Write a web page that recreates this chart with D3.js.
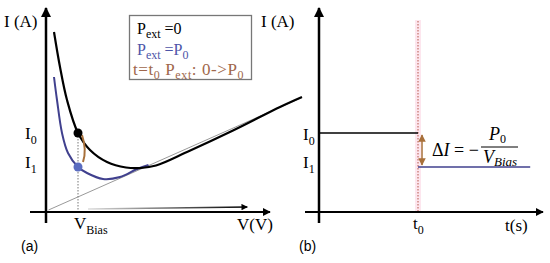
<!DOCTYPE html>
<html><head><meta charset="utf-8">
<script src="https://cdn.jsdelivr.net/npm/d3@7"></script>
<style>
body{margin:0;background:#fff;}
svg{display:block;}
.serif{font-family:"Liberation Serif","DejaVu Serif",serif;}
.sans{font-family:"Liberation Sans",Arial,sans-serif;}
</style></head>
<body>
<svg id="c" width="550" height="263"></svg>
<script>
// ---- data ----
const blackV = [0.32, 0.56, 0.84, 1.28, 1.76, 2.44, 3.2, 3.8, 4.4, 5.64, 7.48, 9.36, 10.24];
const blackI = [7.2, 5.8, 4.48, 3.16, 2.48, 2.0, 1.78, 1.76, 1.86, 2.4, 3.26, 4.2, 4.6];
const blueV = [0.32, 0.44, 0.64, 0.88, 1.28, 1.64, 2.28, 2.96, 3.64, 4.1];
const blueI = [5.4, 4.48, 3.16, 2.36, 1.8, 1.56, 1.32, 1.4, 1.72, 1.88];
const asymV = [0.1, 10.24];
const asymI = [0.08, 4.58];
const Vbias = 1.28, I0 = 3.16, I1 = 1.8;
const t0 = 4.5, tEnd = 9.6;
const legendLabels = ["=0", "=P", "t=t", "P", ": 0->P"];

const svg = d3.select("#c");
const x = d3.scaleLinear().domain([0, 10]).range([46, 296]);
const y = d3.scaleLinear().domain([0, 8]).range([212, 12]);
const t = d3.scaleLinear().domain([0, 10]).range([319, 539]);

const defs = svg.append("defs");
defs.append("marker").attr("id","ah").attr("viewBox","0 0 10 10").attr("refX",9).attr("refY",5)
  .attr("markerWidth",4).attr("markerHeight",4).attr("orient","auto-start-reverse")
  .append("path").attr("d","M0,0L10,5L0,10z").attr("fill","#000");
defs.append("marker").attr("id","ahb").attr("viewBox","0 0 10 10").attr("refX",9).attr("refY",5)
  .attr("markerWidth",5).attr("markerHeight",5).attr("orient","auto-start-reverse")
  .append("path").attr("d","M0,0L10,5L0,10z").attr("fill","#a8703a");
const grad = defs.append("linearGradient").attr("id","g1");
grad.append("stop").attr("offset","0").attr("stop-color","#ddd");
grad.append("stop").attr("offset","1").attr("stop-color","#000");

const brown = "#a8703a";
const navy = "#40408e";

// ---------- panel (a) ----------
const line = d3.line().x(d => x(d[0])).y(d => y(d[1])).curve(d3.curveCatmullRom.alpha(0.5));
svg.append("path").datum(d3.zip(asymV, asymI)).attr("d", d3.line().x(d=>x(d[0])).y(d=>y(d[1])))
  .attr("fill","none").attr("stroke","#999").attr("stroke-width",1);
svg.append("line").attr("x1", x(1.68)).attr("y1", y(0.12)).attr("x2", x(8.05)).attr("y2", y(0.2))
  .attr("stroke","url(#g1)").attr("stroke-width",1.6).attr("marker-end","url(#ah)");
svg.append("line").attr("x1", x(Vbias)).attr("x2", x(Vbias)).attr("y1", y(I0)).attr("y2", y(0))
  .attr("stroke","#777").attr("stroke-width",1).attr("stroke-dasharray","1.5,1.5");
svg.append("path").datum(d3.zip(blueV, blueI)).attr("d", line)
  .attr("fill","none").attr("stroke",navy).attr("stroke-width",2);
svg.append("path").datum(d3.zip(blackV, blackI)).attr("d", line)
  .attr("fill","none").attr("stroke","#000").attr("stroke-width",2.2);
svg.append("path").attr("d", `M${x(Vbias)+4},${y(I0)+2} Q${x(Vbias)+9},${(y(I0)+y(I1))/2} ${x(Vbias)+5},${y(I1)-5}`)
  .attr("fill","none").attr("stroke",brown).attr("stroke-width",2);
svg.append("circle").attr("cx", x(Vbias)).attr("cy", y(I0)).attr("r",4.5).attr("fill","#000");
svg.append("circle").attr("cx", x(Vbias)).attr("cy", y(I1)).attr("r",4.5).attr("fill","#5a6cc0");
svg.append("line").attr("x1", x(0)).attr("x2", x(0)).attr("y1", 223).attr("y2", 8)
  .attr("stroke","#000").attr("stroke-width",2.5).attr("marker-end","url(#ah)");
svg.append("line").attr("x1", 30).attr("x2", 270).attr("y1", y(0)).attr("y2", y(0))
  .attr("stroke","#000").attr("stroke-width",2).attr("marker-end","url(#ah)");

function sub(sel, main, s, size, subSize){
  sel.append("tspan").text(main);
  sel.append("tspan").attr("dy", size*0.28).attr("font-size", subSize).text(s);
}
svg.append("text").attr("class","serif").attr("x",4).attr("y",27).attr("font-size",17).text("I (A)");
sub(svg.append("text").attr("class","serif").attr("x",25).attr("y",y(I0)+6).attr("font-size",17), "I", "0", 17, 12);
sub(svg.append("text").attr("class","serif").attr("x",25).attr("y",y(I1)+1).attr("font-size",17), "I", "1", 17, 12);
sub(svg.append("text").attr("class","serif").attr("x",x(Vbias)-4).attr("y",229).attr("font-size",17), "V", "Bias", 17, 12);
svg.append("text").attr("class","serif").attr("x",237).attr("y",230).attr("font-size",17).text("V(V)");
svg.append("text").attr("class","sans").attr("x",21).attr("y",251).attr("font-size",14).text("(a)");

// legend
svg.append("rect").attr("x",129.5).attr("y",15.5).attr("width",122).attr("height",64)
  .attr("fill","#fff").attr("stroke","#777").attr("stroke-width",1.3);
const l1 = svg.append("text").attr("class","serif").attr("x",137).attr("y",34).attr("font-size",16).attr("fill","#000");
l1.append("tspan").text("P"); l1.append("tspan").attr("dy",4).attr("font-size",12).text("ext");
l1.append("tspan").attr("dy",-4).text(" " + legendLabels[0]);
const l2 = svg.append("text").attr("class","serif").attr("x",137).attr("y",55).attr("font-size",16).attr("fill","#4d55a8");
l2.append("tspan").text("P"); l2.append("tspan").attr("dy",4).attr("font-size",12).text("ext");
l2.append("tspan").attr("dy",-4).text(" " + legendLabels[1]);
l2.append("tspan").attr("dy",4).attr("font-size",12).text("0");
const l3 = svg.append("text").attr("class","serif").attr("x",133).attr("y",75).attr("font-size",17)
  .attr("letter-spacing",0.6).attr("fill","#a0674b");
l3.append("tspan").text(legendLabels[2]);
l3.append("tspan").attr("dy",4).attr("font-size",12).text("0");
l3.append("tspan").attr("dy",-4).text(" " + legendLabels[3]);
l3.append("tspan").attr("dy",4).attr("font-size",12).text("ext");
l3.append("tspan").attr("dy",-4).text(legendLabels[4]);
l3.append("tspan").attr("dy",4).attr("font-size",12).text("0");

// ---------- panel (b) ----------
svg.append("rect").attr("x", t(t0)-3).attr("y", 20).attr("width",6).attr("height", y(0)-20).attr("fill","#fde6ee");
svg.append("line").attr("x1", t(t0)).attr("x2", t(t0)).attr("y1", 21).attr("y2", y(0))
  .attr("stroke","#b5574b").attr("stroke-width",1).attr("stroke-dasharray","1.5,1.5");
svg.append("line").attr("x1", t(0)).attr("x2", t(t0)).attr("y1", y(I0)).attr("y2", y(I0))
  .attr("stroke","#000").attr("stroke-width",1.5);
svg.append("line").attr("x1", t(t0)).attr("x2", t(tEnd)).attr("y1", y(I1)).attr("y2", y(I1))
  .attr("stroke",navy).attr("stroke-width",1.5);
svg.append("line").attr("x1", t(t0)+4).attr("x2", t(t0)+4).attr("y1", y(I0)+2).attr("y2", y(I1)-2)
  .attr("stroke",brown).attr("stroke-width",1.5).attr("marker-start","url(#ahb)").attr("marker-end","url(#ahb)");
svg.append("line").attr("x1", t(0)).attr("x2", t(0)).attr("y1", 223).attr("y2", 8)
  .attr("stroke","#000").attr("stroke-width",2.5).attr("marker-end","url(#ah)");
svg.append("line").attr("x1", 305).attr("x2", 543).attr("y1", y(0)).attr("y2", y(0))
  .attr("stroke","#000").attr("stroke-width",2).attr("marker-end","url(#ah)");

svg.append("text").attr("class","serif").attr("x",261).attr("y",27).attr("font-size",17).text("I (A)");
sub(svg.append("text").attr("class","serif").attr("x",303).attr("y",y(I0)+7).attr("font-size",17), "I", "0", 17, 12);
sub(svg.append("text").attr("class","serif").attr("x",303).attr("y",y(I1)+1).attr("font-size",17), "I", "1", 17, 12);
sub(svg.append("text").attr("class","serif").attr("x",t(t0)-5).attr("y",229).attr("font-size",17), "t", "0", 17, 12);
svg.append("text").attr("class","serif").attr("x",505).attr("y",231).attr("font-size",17).text("t(s)");
svg.append("text").attr("class","sans").attr("x",299).attr("y",251).attr("font-size",14).text("(b)");

// formula
const f = svg.append("text").attr("class","serif").attr("x",432).attr("y",156).attr("font-size",18);
f.append("tspan").text("Δ"); f.append("tspan").attr("font-style","italic").text("I");
f.append("tspan").text(" = −");
svg.append("line").attr("x1",481).attr("x2",518).attr("y1",147).attr("y2",147).attr("stroke","#000").attr("stroke-width",1);
const fp = svg.append("text").attr("class","serif").attr("x",489).attr("y",140).attr("font-size",18);
fp.append("tspan").attr("font-style","italic").text("P"); fp.append("tspan").attr("dy",3).attr("font-size",12).text("0");
const fv = svg.append("text").attr("class","serif").attr("x",483).attr("y",163).attr("font-size",18);
fv.append("tspan").attr("font-style","italic").text("V");
fv.append("tspan").attr("dy",3).attr("font-size",13).attr("font-style","italic").text("Bias");
</script>
</body></html>
